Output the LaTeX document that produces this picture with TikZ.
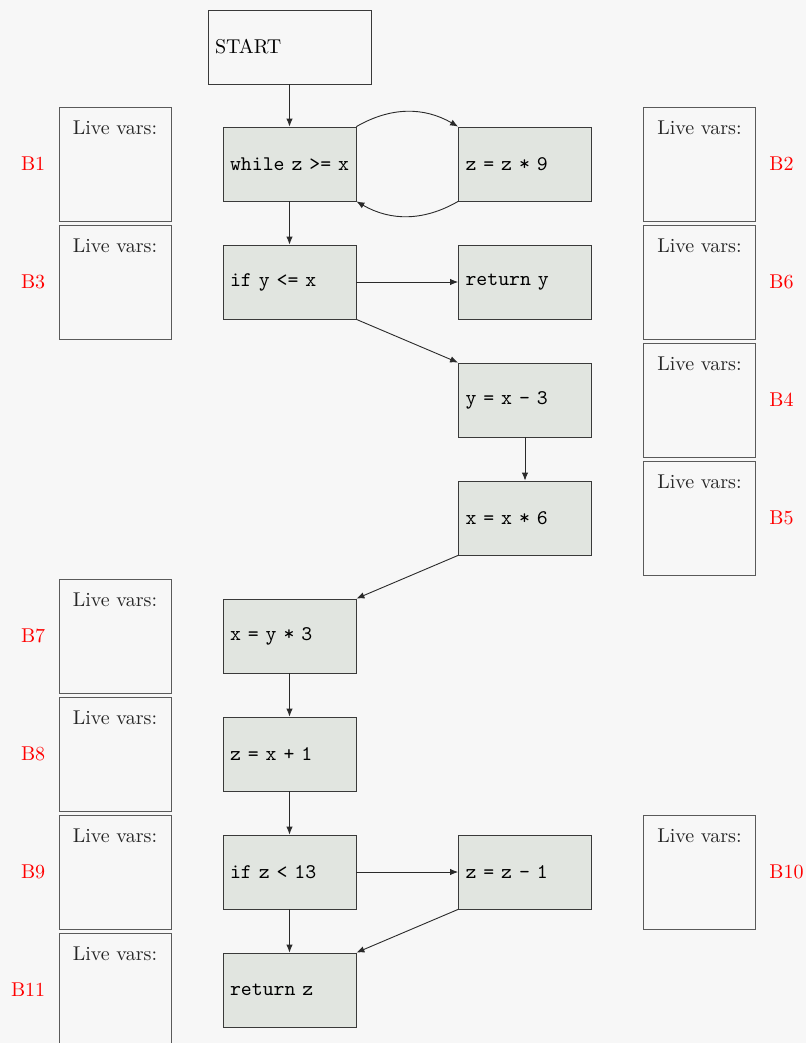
\documentclass[tikz,border=0pt]{standalone}
\usetikzlibrary{arrows.meta}
\definecolor{bgc}{HTML}{F7F7F7}
\definecolor{codefill}{HTML}{E1E5E0}
\definecolor{codedraw}{HTML}{3A3A3A}
\definecolor{livedraw}{HTML}{5A5A5A}
\definecolor{edgec}{HTML}{2A2A2A}
\newcommand{\cb}[1]{\mbox{#1}}
\tikzset{
  codebox/.style={draw=codedraw, fill=codefill, minimum width=66.5pt, minimum height=37pt,
    text width=59.5pt, align=left, inner xsep=3.5pt, inner ysep=0pt, font=\fontsize{10.4}{12}\ttfamily},
  startbox/.style={draw=codedraw, fill=bgc, minimum width=81.5pt, minimum height=37pt,
    text width=74.5pt, align=left, inner xsep=3.5pt, inner ysep=0pt},
  livebox/.style={draw=livedraw, minimum width=56pt, minimum height=57pt, inner sep=0pt},
  livetext/.style={anchor=base, inner sep=0pt, text=black!85},
  blabel/.style={text=red, inner sep=0pt},
  flow/.style={draw=edgec, line width=0.45pt, -{Latex[length=4pt,width=3.2pt]}}
}
\begin{document}
\begin{tikzpicture}[x=1pt,y=1pt]
\useasboundingbox (0,0) rectangle (403,-521.5);
\fill[bgc] (0,0) rectangle (403,-521.5);
% code nodes
\node[startbox] (start) at (144.75,-23.5) {START};
\node[codebox] (b1) at (144.75,-82) {\cb{while z >= x}};
\node[codebox] (b2) at (262.5,-82) {\cb{z = z * 9}};
\node[codebox] (b3) at (144.75,-141) {\cb{if y <= x}};
\node[codebox] (b6) at (262.5,-141) {\cb{return y}};
\node[codebox] (b4) at (262.5,-200) {\cb{y = x - 3}};
\node[codebox] (b5) at (262.5,-259) {\cb{x = x * 6}};
\node[codebox] (b7) at (144.75,-318) {\cb{x = y * 3}};
\node[codebox] (b8) at (144.75,-377) {\cb{z = x + 1}};
\node[codebox] (b9) at (144.75,-436) {\cb{if z < 13}};
\node[codebox] (b10) at (262.5,-436) {\cb{z = z - 1}};
\node[codebox] (b11) at (144.75,-495) {\cb{return z}};
% live boxes left
\foreach \nm/\yy in {B1/-82,B3/-141,B7/-318,B8/-377,B9/-436,B11/-495}{
  \node[livebox] (L\nm) at (57.5,\yy) {};
  \node[livetext] (LT\nm) at ([yshift=-14pt]L\nm.north) {Live vars:};
  \node[blabel, anchor=east] (lab\nm) at (22.8,\yy) {\nm};
}
% live boxes right
\foreach \nm/\yy in {B2/-82,B6/-141,B4/-200,B5/-259,B10/-436}{
  \node[livebox] (L\nm) at (349.75,\yy) {};
  \node[livetext] (LT\nm) at ([yshift=-14pt]L\nm.north) {Live vars:};
  \node[blabel, anchor=west] (lab\nm) at (384.5,\yy) {\nm};
}
% edges
\draw[flow] (start) -- (b1);
\draw[flow] (b1.north east) to[bend left=30] (b2.north west);
\draw[flow] (b2.south west) to[bend left=30] (b1.south east);
\draw[flow] (b1) -- (b3);
\draw[flow] (b3) -- (b6);
\draw[flow] (b3.south east) -- (b4.north west);
\draw[flow] (b4) -- (b5);
\draw[flow] (b5.south west) -- (b7.north east);
\draw[flow] (b7) -- (b8);
\draw[flow] (b8) -- (b9);
\draw[flow] (b9) -- (b10);
\draw[flow] (b9) -- (b11);
\draw[flow] (b10.south west) -- (b11.north east);
\end{tikzpicture}
\end{document}
